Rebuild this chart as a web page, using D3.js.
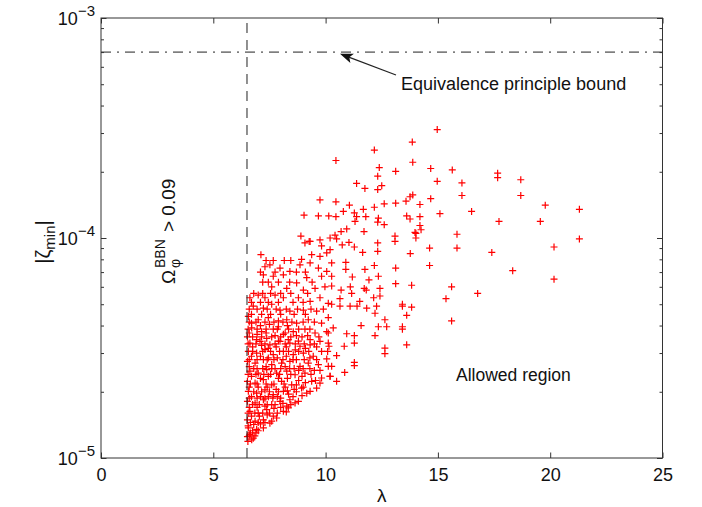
<!DOCTYPE html>
<html>
<head>
<meta charset="utf-8">
<script src="https://cdn.jsdelivr.net/npm/d3@7"></script>
<style>
  body { margin: 0; background: #fff; }
  text { font-family: "Liberation Sans", Arial, Helvetica, sans-serif; fill: #111; }
</style>
</head>
<body>
<svg id="chart"></svg>
<script>
const width = 702;
const height = 507;
const margin = { top: 18, right: 39.5, bottom: 49, left: 101 };

// Axis ticks
const xTicks = [0, 5, 10, 15, 20, 25];
const yTickExponents = [-3, -4, -5];

// Bounds drawn as lines
const lambdaBBN = 6.5;
const zetaEP = 7e-4;

// Scatter points [lambda, |zeta_min|]
const lowerCloud = [
  [6.63, 3.33e-5], [7.08, 3.39e-5], [7.52, 3.27e-5], [7.97, 3.39e-5], [8.41, 3.33e-5], [8.86, 3.22e-5], [9.31, 3.27e-5], [9.75, 3.39e-5], [10.12, 3.33e-5],
  [6.56, 3.05e-5], [6.93, 3.0e-5], [7.30, 3.11e-5], [7.67, 2.95e-5], [8.12, 3.05e-5], [8.56, 2.95e-5], [9.01, 3.0e-5], [9.45, 2.9e-5], [9.82, 3.05e-5],
  [6.52, 2.75e-5], [6.86, 2.7e-5], [7.23, 2.8e-5], [7.60, 2.66e-5], [8.04, 2.7e-5], [8.41, 2.75e-5], [8.86, 2.61e-5], [9.23, 2.7e-5], [9.68, 2.66e-5], [10.12, 2.61e-5],
  [6.63, 2.48e-5], [7.00, 2.43e-5], [7.38, 2.52e-5], [7.82, 2.43e-5], [8.27, 2.48e-5], [8.64, 2.39e-5], [9.08, 2.43e-5], [9.38, 2.23e-5], [9.82, 2.31e-5], [10.2, 2.35e-5],
  [6.52, 2.23e-5], [6.86, 2.19e-5], [7.23, 2.27e-5], [7.60, 2.15e-5], [8.04, 2.23e-5], [8.49, 2.15e-5], [8.93, 2.08e-5], [9.31, 2.01e-5], [9.75, 2.19e-5],
  [6.56, 2.01e-5], [6.93, 1.97e-5], [7.30, 2.04e-5], [7.67, 1.94e-5], [8.12, 2.01e-5], [8.41, 1.84e-5], [8.79, 1.81e-5], [9.16, 1.97e-5], [9.60, 2.08e-5],
  [6.52, 1.81e-5], [6.86, 1.78e-5], [7.23, 1.84e-5], [7.60, 1.75e-5], [7.97, 1.81e-5], [8.27, 1.72e-5], [8.64, 1.78e-5],
  [6.63, 1.63e-5], [7.00, 1.60e-5], [7.38, 1.66e-5], [7.67, 1.55e-5], [8.12, 1.63e-5], [8.34, 1.69e-5],
  [6.52, 1.49e-5], [6.86, 1.47e-5], [7.23, 1.49e-5], [7.52, 1.44e-5], [7.82, 1.52e-5],
  [6.56, 1.37e-5], [6.93, 1.35e-5], [7.23, 1.37e-5],
  [6.52, 1.25e-5], [6.78, 1.23e-5], [6.63, 1.28e-5], [6.54, 1.19e-5], [6.71, 1.21e-5],
  [6.7, 4.1e-5], [7.1, 4.0e-5], [7.5, 4.05e-5], [7.9, 3.95e-5], [8.3, 4.0e-5],
  [6.6, 3.7e-5], [6.95, 3.65e-5], [7.35, 3.7e-5], [7.75, 3.6e-5], [8.2, 3.7e-5], [8.7, 3.6e-5], [9.2, 3.6e-5],
  [6.75, 3.2e-5], [7.15, 3.25e-5], [7.45, 3.15e-5], [7.8, 3.2e-5], [8.25, 3.2e-5], [8.65, 3.1e-5], [9.1, 3.15e-5], [9.6, 3.2e-5],
  [6.7, 2.9e-5], [7.1, 2.9e-5], [7.45, 2.85e-5], [7.85, 2.85e-5], [8.25, 2.9e-5], [8.7, 2.8e-5], [9.3, 2.85e-5],
  [6.6, 2.6e-5], [6.95, 2.55e-5], [7.35, 2.6e-5], [7.75, 2.55e-5], [8.2, 2.6e-5], [8.6, 2.55e-5], [9.0, 2.55e-5], [9.5, 2.5e-5],
  [6.7, 2.35e-5], [7.1, 2.3e-5], [7.45, 2.35e-5], [7.9, 2.3e-5], [8.3, 2.3e-5], [8.8, 2.25e-5],
  [6.6, 2.1e-5], [7.0, 2.1e-5], [7.4, 2.1e-5], [7.8, 2.05e-5], [8.2, 2.1e-5], [8.7, 2.0e-5],
  [6.7, 1.9e-5], [7.1, 1.9e-5], [7.45, 1.9e-5], [7.85, 1.9e-5], [8.35, 1.95e-5],
  [6.6, 1.7e-5], [6.95, 1.7e-5], [7.3, 1.72e-5], [7.7, 1.68e-5], [8.0, 1.7e-5],
  [6.7, 1.55e-5], [7.05, 1.55e-5], [7.4, 1.57e-5],
  [6.55, 1.4e-5], [6.8, 1.42e-5], [7.1, 1.43e-5],
  [6.65, 1.3e-5], [6.9, 1.3e-5]
];

const denseFill = [
  [6.6, 1.26e-5], [6.85, 1.26e-5], [6.75, 1.33e-5], [7.0, 1.33e-5],
  [6.65, 1.45e-5], [7.0, 1.45e-5], [7.3, 1.45e-5], [7.6, 1.47e-5],
  [6.55, 1.6e-5], [6.85, 1.6e-5], [7.2, 1.6e-5], [7.5, 1.6e-5], [7.85, 1.6e-5], [8.25, 1.62e-5],
  [6.75, 1.75e-5], [7.05, 1.75e-5], [7.4, 1.75e-5], [7.75, 1.75e-5], [8.1, 1.77e-5], [8.45, 1.75e-5],
  [6.6, 1.87e-5], [6.95, 1.87e-5], [7.3, 1.87e-5], [7.65, 1.87e-5], [8.0, 1.87e-5], [8.55, 1.9e-5], [8.95, 1.92e-5],
  [6.8, 2.0e-5], [7.15, 2.0e-5], [7.5, 2.0e-5], [7.9, 2.0e-5], [8.3, 2.02e-5], [8.6, 2.05e-5], [9.0, 2.1e-5],
  [6.65, 2.17e-5], [6.95, 2.17e-5], [7.35, 2.17e-5], [7.7, 2.17e-5], [8.15, 2.17e-5], [8.7, 2.15e-5], [9.1, 2.2e-5], [9.55, 2.25e-5],
  [6.55, 2.4e-5], [6.9, 2.4e-5], [7.25, 2.4e-5], [7.55, 2.4e-5], [7.95, 2.4e-5], [8.45, 2.4e-5], [8.95, 2.35e-5], [9.35, 2.4e-5],
  [6.8, 2.55e-5], [7.2, 2.55e-5], [7.6, 2.55e-5], [8.0, 2.55e-5], [8.4, 2.55e-5], [8.8, 2.5e-5], [9.3, 2.55e-5], [9.75, 2.5e-5],
  [6.6, 2.8e-5], [6.95, 2.8e-5], [7.4, 2.8e-5], [7.7, 2.8e-5], [8.1, 2.8e-5], [8.55, 2.8e-5], [9.05, 2.8e-5], [9.6, 2.8e-5],
  [6.75, 3.05e-5], [7.2, 3.05e-5], [7.55, 3.05e-5], [7.95, 3.05e-5], [8.35, 3.05e-5], [8.8, 3.05e-5], [9.25, 3.05e-5],
  [6.55, 3.3e-5], [6.9, 3.3e-5], [7.3, 3.3e-5], [7.75, 3.3e-5], [8.2, 3.3e-5], [8.65, 3.3e-5], [9.05, 3.3e-5], [9.5, 3.3e-5],
  [6.75, 3.55e-5], [7.15, 3.55e-5], [7.6, 3.55e-5], [8.0, 3.55e-5], [8.45, 3.55e-5], [8.95, 3.55e-5], [9.7, 3.55e-5],
  [6.55, 3.85e-5], [6.95, 3.85e-5], [7.35, 3.85e-5], [7.85, 3.85e-5], [8.35, 3.85e-5], [8.8, 3.85e-5], [9.3, 3.85e-5],
  [6.6, 4.15e-5], [6.9, 4.15e-5], [7.3, 4.15e-5], [7.7, 4.15e-5], [8.1, 4.15e-5], [8.5, 4.15e-5], [9.0, 4.15e-5], [9.5, 4.15e-5],
  [6.7, 4.5e-5], [7.15, 4.5e-5], [7.55, 4.5e-5], [8.0, 4.5e-5], [8.6, 4.5e-5], [9.1, 4.5e-5],
  [6.6, 4.75e-5], [6.95, 4.75e-5], [7.4, 4.75e-5], [7.8, 4.75e-5], [8.25, 4.75e-5], [8.75, 4.75e-5], [9.35, 4.75e-5], [9.9, 4.75e-5],
  [6.7, 5.1e-5], [7.1, 5.1e-5], [7.45, 5.1e-5], [7.9, 5.1e-5], [8.55, 5.1e-5], [9.0, 5.1e-5],
  [6.8, 5.6e-5], [7.2, 5.6e-5], [7.55, 5.6e-5], [8.0, 5.6e-5], [8.45, 5.6e-5], [9.2, 5.6e-5],
  [7.2, 6.3e-5], [7.45, 6.3e-5], [7.9, 6.3e-5], [8.4, 6.3e-5], [9.4, 6.3e-5],
  [7.1, 7.0e-5], [7.75, 7.0e-5], [8.7, 7.0e-5], [9.1, 7.0e-5],
  [7.35, 7.9e-5], [8.45, 7.9e-5]
];

const middleCloud = [
  [7.12, 8.4e-5], [7.67, 7.9e-5], [8.16, 7.9e-5], [8.93, 8.0e-5], [9.38, 8.4e-5], [9.75, 8.25e-5], [10.05, 8.55e-5], [9.08, 9.5e-5], [9.31, 9.65e-5], [9.82, 9.2e-5], [10.2, 8.85e-5],
  [7.30, 7.4e-5], [7.52, 7.55e-5], [7.97, 7.3e-5], [8.41, 7.05e-5], [8.86, 7.55e-5], [9.31, 7.7e-5], [9.68, 7.3e-5], [10.05, 7.05e-5],
  [7.23, 6.8e-5], [7.67, 6.7e-5], [8.12, 6.8e-5], [8.71, 6.25e-5], [9.16, 6.6e-5], [9.82, 6.7e-5], [10.27, 6.7e-5],
  [7.60, 6.0e-5], [8.27, 5.9e-5], [9.01, 5.8e-5], [9.53, 5.9e-5], [9.97, 6.0e-5],
  [6.63, 5.35e-5], [7.00, 5.5e-5], [7.30, 5.35e-5], [7.75, 5.5e-5], [8.12, 5.35e-5], [8.79, 5.35e-5], [9.31, 5.15e-5], [9.75, 5.35e-5], [10.12, 5.05e-5],
  [6.78, 4.9e-5], [7.23, 4.8e-5], [7.60, 5.0e-5], [7.97, 4.7e-5], [8.41, 4.65e-5], [9.01, 4.7e-5], [9.60, 4.65e-5],
  [6.56, 4.4e-5], [7.00, 4.25e-5], [7.45, 4.35e-5], [7.90, 4.2e-5], [8.27, 4.25e-5], [8.71, 4.1e-5], [9.23, 4.25e-5], [9.82, 4.1e-5], [10.12, 4.35e-5],
  [6.71, 3.9e-5], [7.15, 3.75e-5], [7.67, 3.85e-5], [8.12, 3.65e-5], [8.56, 3.75e-5], [9.08, 3.85e-5], [9.53, 3.7e-5], [10.05, 3.75e-5],
  [6.52, 3.55e-5], [6.93, 3.45e-5], [7.38, 3.5e-5], [7.90, 3.4e-5], [8.34, 3.45e-5], [8.79, 3.4e-5], [9.31, 3.45e-5],
  [9.75, 1.49e-4], [9.04, 1.27e-4], [9.68, 1.26e-4], [10.14, 1.26e-4], [10.46, 1.25e-4], [8.9, 1.02e-4], [9.27, 9.65e-5], [9.75, 9.8e-5], [10.2, 1.0e-4], [10.42, 1.03e-4]
];

const rightCloud = [
  [10.79, 1.32e-4], [11.28, 1.30e-4], [11.38, 1.25e-4], [11.79, 1.25e-4], [11.31, 1.19e-4], [12.35, 1.23e-4], [12.32, 1.18e-4], [12.61, 1.15e-4],
  [13.61, 1.26e-4], [13.76, 1.22e-4], [13.98, 1.06e-4], [13.09, 1.02e-4], [13.09, 9.65e-5], [10.69, 1.07e-4], [10.94, 1.10e-4], [10.49, 9.9e-5],
  [10.74, 9.3e-5], [11.04, 9.55e-5], [11.71, 1.07e-4], [12.32, 9.5e-5], [11.28, 9.1e-5], [11.65, 8.6e-5], [12.32, 8.7e-5], [13.77, 8.5e-5],
  [10.27, 7.7e-5], [10.9, 7.75e-5], [10.9, 7.2e-5], [12.17, 7.5e-5], [13.12, 7.3e-5], [11.75, 7.2e-5], [11.93, 6.45e-5], [11.19, 6.65e-5],
  [12.35, 6.7e-5], [13.12, 6.2e-5], [13.83, 6.1e-5], [10.27, 6.05e-5], [10.69, 5.8e-5], [11.1, 6.0e-5], [11.16, 5.6e-5], [11.72, 5.9e-5],
  [11.81, 5.8e-5], [12.14, 5.35e-5], [12.42, 5.9e-5], [12.42, 5.45e-5], [11.52, 5.15e-5], [11.83, 4.8e-5], [11.4, 4.9e-5], [11.09, 4.9e-5],
  [10.64, 5.3e-5], [10.64, 4.9e-5], [10.27, 5.0e-5], [13.42, 5.0e-5], [13.42, 4.9e-5], [13.83, 4.85e-5], [12.27, 4.9e-5], [12.2, 4.55e-5],
  [12.64, 4.25e-5], [12.72, 3.95e-5], [12.35, 3.95e-5], [13.61, 4.45e-5], [13.42, 3.95e-5], [13.42, 3.85e-5], [11.58, 4.0e-5], [10.94, 3.67e-5],
  [11.28, 3.6e-5], [12.2, 3.6e-5], [11.28, 3.33e-5], [12.64, 3.16e-5], [12.64, 2.98e-5], [13.61, 3.27e-5], [10.83, 3.22e-5], [10.49, 2.92e-5],
  [11.28, 2.72e-5], [11.28, 2.63e-5], [10.85, 2.45e-5], [10.49, 2.23e-5], [10.27, 2.61e-5], [10.2, 2.35e-5], [10.34, 3.9e-5], [10.12, 3.7e-5],
  [10.15, 3.22e-5], [10.09, 3.05e-5], [10.05, 2.82e-5]
];

const upperPoints = [
  [13.86, 2.73e-4], [12.17, 2.51e-4], [10.46, 2.25e-4], [13.88, 2.21e-4], [12.39, 2.09e-4], [13.12, 2.01e-4], [12.32, 1.91e-4], [11.38, 1.77e-4],
  [11.75, 1.68e-4], [12.5, 1.73e-4], [12.32, 1.66e-4], [13.88, 1.57e-4], [13.76, 1.54e-4], [13.58, 1.47e-4], [10.46, 1.46e-4], [11.06, 1.41e-4],
  [12.61, 1.43e-4], [13.12, 1.44e-4], [11.68, 1.35e-4], [12.17, 1.38e-4],
  [14.97, 3.11e-4], [14.68, 2.07e-4], [15.64, 2.04e-4], [17.66, 1.97e-4], [17.66, 1.88e-4], [14.97, 1.81e-4], [16.07, 1.78e-4], [18.69, 1.84e-4],
  [18.69, 1.56e-4], [16.07, 1.56e-4], [14.68, 1.51e-4], [14.2, 1.42e-4], [19.78, 1.41e-4], [21.3, 1.35e-4], [15.09, 1.29e-4], [16.5, 1.32e-4],
  [14.2, 1.25e-4], [17.72, 1.19e-4], [19.56, 1.19e-4], [14.2, 1.14e-4], [14.25, 1.09e-4], [14.02, 1.05e-4], [14.02, 1.0e-4], [15.85, 1.04e-4],
  [21.3, 9.9e-5], [20.17, 9.1e-5], [14.63, 9.0e-5], [15.85, 9.0e-5], [17.4, 8.6e-5], [14.63, 7.5e-5], [18.33, 7.1e-5], [20.17, 6.5e-5],
  [15.61, 6.0e-5], [16.77, 5.6e-5], [15.36, 5.3e-5], [15.61, 4.2e-5]
];

const svg = d3.select("#chart").attr("width", width).attr("height", height);

const x = d3.scaleLinear().domain([0, 25]).range([margin.left, width - margin.right]);
const y = d3.scaleLog().domain([1e-5, 1e-3]).range([height - margin.bottom, margin.top]);

const majorY = yTickExponents.map(e => Math.pow(10, e));
const minorY = y.ticks().filter(v => !majorY.some(m => Math.abs(m - v) / m < 1e-6));

// Scatter
const allPoints = [].concat(lowerCloud, denseFill, middleCloud, rightCloud, upperPoints);
svg.append("g")
  .selectAll("path")
  .data(allPoints)
  .join("path")
  .attr("transform", d => `translate(${x(d[0])},${y(d[1])})`)
  .attr("d", "M-3.5,0H3.5M0,-3.5V3.5")
  .attr("fill", "none")
  .attr("stroke", "#ff0000")
  .attr("stroke-width", 1.2);

// Bound lines
svg.append("line")
  .attr("x1", x(lambdaBBN)).attr("x2", x(lambdaBBN))
  .attr("y1", y(1e-5)).attr("y2", y(1e-3))
  .attr("stroke", "#222").attr("stroke-width", 1)
  .attr("stroke-dasharray", "10,7");

svg.append("line")
  .attr("x1", x(0)).attr("x2", x(25))
  .attr("y1", y(zetaEP)).attr("y2", y(zetaEP))
  .attr("stroke", "#222").attr("stroke-width", 1)
  .attr("stroke-dasharray", "10,6,2,6");

// Axes (ticks inside, box style)
const tickStyle = g => {
  g.select(".domain").remove();
  g.selectAll("line").attr("stroke", "#333");
  g.selectAll("text").style("font-size", "18px").attr("fill", "#111").attr("font-family", null);
};

svg.append("g")
  .attr("transform", `translate(0,${y(1e-5)})`)
  .call(d3.axisBottom(x).tickValues(xTicks).tickSize(-5.5).tickPadding(10).tickFormat(d3.format("d")))
  .call(tickStyle);

svg.append("g")
  .attr("transform", `translate(0,${y(1e-3)})`)
  .call(d3.axisTop(x).tickValues(xTicks).tickSize(-5.5).tickFormat(""))
  .call(tickStyle);

svg.append("g")
  .attr("transform", `translate(${x(0)},0)`)
  .call(d3.axisLeft(y).tickValues(majorY).tickSize(-5.5).tickFormat(""))
  .call(tickStyle);
svg.append("g")
  .attr("transform", `translate(${x(0)},0)`)
  .call(d3.axisLeft(y).tickValues(minorY).tickSize(-3).tickFormat(""))
  .call(tickStyle);
svg.append("g")
  .attr("transform", `translate(${x(25)},0)`)
  .call(d3.axisRight(y).tickValues(majorY).tickSize(-5.5).tickFormat(""))
  .call(tickStyle);
svg.append("g")
  .attr("transform", `translate(${x(25)},0)`)
  .call(d3.axisRight(y).tickValues(minorY).tickSize(-3).tickFormat(""))
  .call(tickStyle);

// Box
svg.append("rect")
  .attr("x", x(0)).attr("y", y(1e-3))
  .attr("width", x(25) - x(0)).attr("height", y(1e-5) - y(1e-3))
  .attr("fill", "none").attr("stroke", "#333").attr("stroke-width", 1);

// Y tick labels 10^n
const yLabels = svg.append("g")
  .selectAll("text")
  .data(yTickExponents)
  .join("text")
  .attr("x", x(0) - 6)
  .attr("y", d => y(Math.pow(10, d)) + 7)
  .attr("text-anchor", "end")
  .style("font-size", "18px");
yLabels.append("tspan").text("10");
yLabels.append("tspan").attr("dy", -9).style("font-size", "15px").text(d => "\u2212" + Math.abs(d));

// Axis titles
svg.append("text")
  .attr("x", (x(0) + x(25)) / 2)
  .attr("y", 502)
  .attr("text-anchor", "middle")
  .style("font-size", "19px")
  .text("λ");

const yTitle = svg.append("text")
  .attr("transform", "translate(50,242) rotate(-90)")
  .attr("text-anchor", "middle")
  .style("font-size", "20px");
yTitle.append("tspan").text("|ζ");
yTitle.append("tspan").attr("dy", 5).style("font-size", "15px").text("min");
yTitle.append("tspan").attr("dy", -5).text("|");

// BBN annotation (rotated)
const omega = svg.append("g").attr("transform", "translate(175,284) rotate(-90)");
omega.append("text").attr("x", 0).attr("y", 0).style("font-size", "19px").text("Ω");
omega.append("text").attr("x", 16).attr("y", -10).style("font-size", "14px").text("BBN");
omega.append("text").attr("x", 16).attr("y", 5).style("font-size", "14px").text("φ");
omega.append("text").attr("x", 52).attr("y", 0).style("font-size", "19px").text("> 0.09");

// Equivalence principle annotation with arrow
const tip = [x(10.64), y(6.88e-4)];
const tail = [396, 75];
const ang = Math.atan2(tail[1] - tip[1], tail[0] - tip[0]);
svg.append("line")
  .attr("x1", tail[0]).attr("y1", tail[1])
  .attr("x2", tip[0] + 8 * Math.cos(ang)).attr("y2", tip[1] + 8 * Math.sin(ang))
  .attr("stroke", "#222").attr("stroke-width", 1.2);
const head = [[0, 0], [13, -5], [10, 0], [13, 5]];
svg.append("path")
  .attr("transform", `translate(${tip[0]},${tip[1]}) rotate(${ang * 180 / Math.PI})`)
  .attr("d", d3.line()(head) + "Z")
  .attr("fill", "#111");

svg.append("text")
  .attr("x", 401)
  .attr("y", 90)
  .style("font-size", "18px")
  .text("Equivalence principle bound");

svg.append("text")
  .attr("x", 456)
  .attr("y", 381)
  .style("font-size", "17.5px")
  .text("Allowed region");
</script>
</body>
</html>
